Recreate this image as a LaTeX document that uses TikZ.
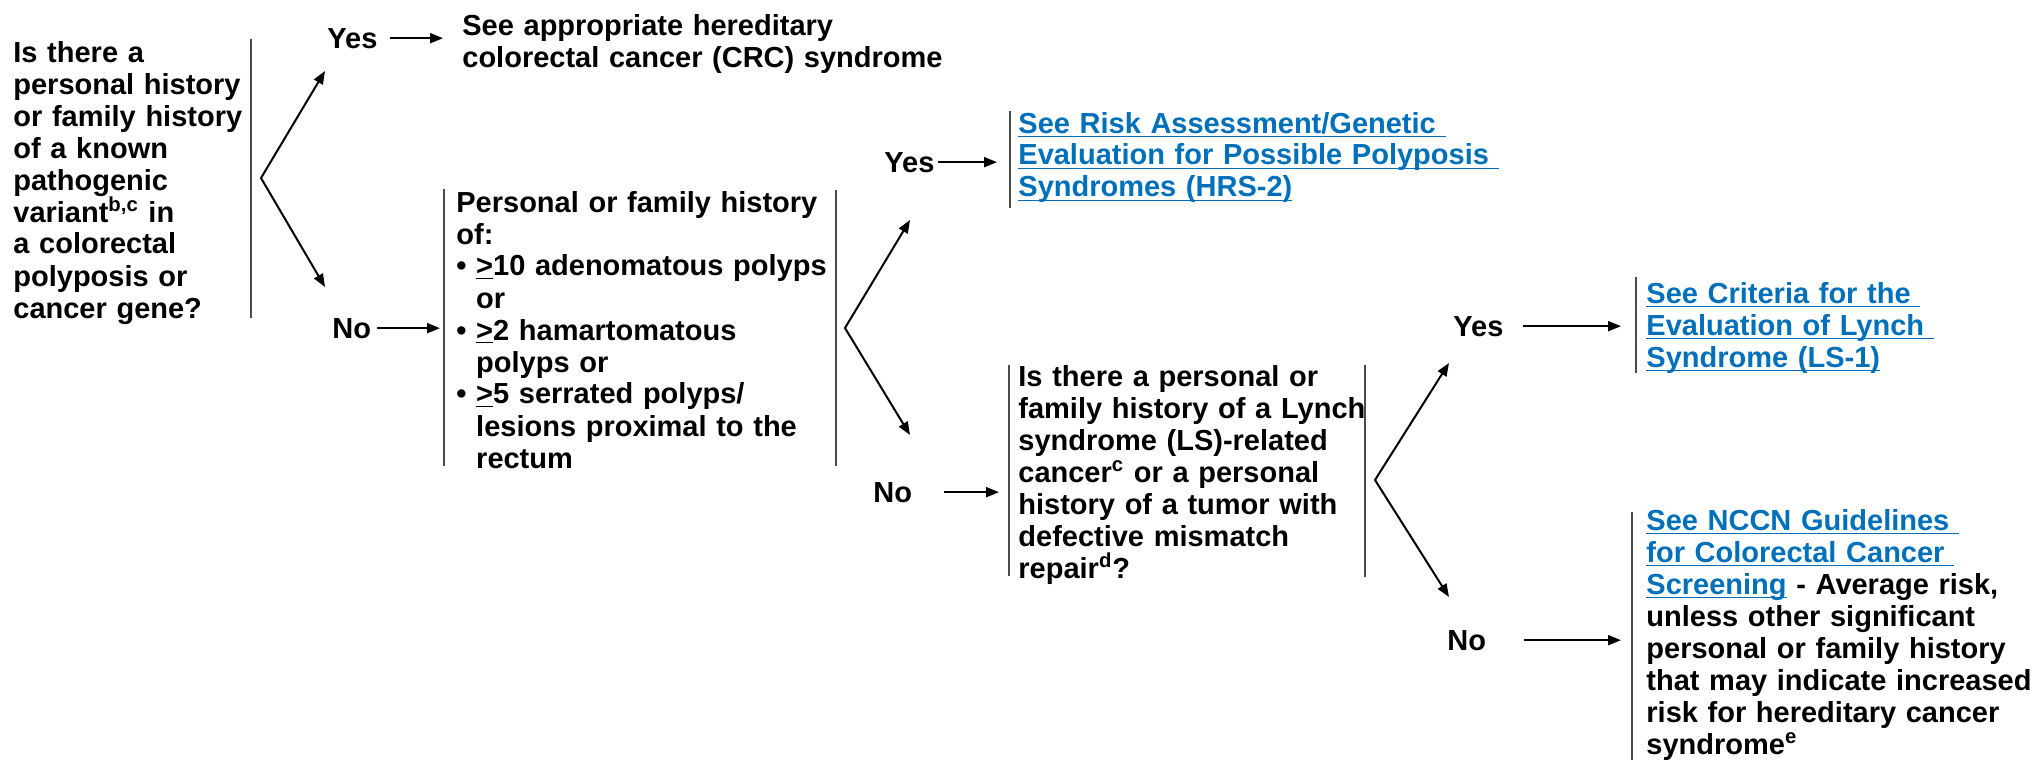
\documentclass[tikz,border=0pt]{standalone}
\usepackage{fontspec}
\setmainfont{Liberation Sans}
\usetikzlibrary{arrows.meta}
\definecolor{linkblue}{RGB}{0,112,186}
\newsavebox{\lnkbox}
\newcommand{\lnk}[1]{\textcolor{linkblue}{\sbox{\lnkbox}{#1}\rlap{\rule[-2.2pt]{\wd\lnkbox}{0.8pt}}\usebox{\lnkbox}}}
\newcommand{\bitem}{\textbullet\ }
\newcommand{\bcont}{\phantom{\textbullet\ }}
\newcommand{\gequ}{\underline{>}}
\tikzset{myarrow/.style={line width=1pt,-{Triangle[length=6.5pt,width=5pt]}}}
\tikzset{myfork/.style={line width=1pt,{Triangle[length=6.5pt,width=5pt]}-{Triangle[length=6.5pt,width=5pt]}}}
\tikzset{mybar/.style={line width=1.2pt,black!70}}
\tikzset{mytext/.style={anchor=base west,inner sep=0pt,align=left,font=\fontsize{14.5}{16}\selectfont\bfseries}}
\tikzset{mylabel/.style={anchor=base west,inner sep=0pt,font=\fontsize{14.5}{16}\selectfont\bfseries}}

\begin{document}
\begin{tikzpicture}[x=0.5pt,y=-0.5pt]
	\useasboundingbox (0,0) rectangle (2042,760);

	% first question
	\node[mytext,text width=125pt] (known) at (13,62) {Is there a\\personal history\\or family history\\of a known\\pathogenic\\variant\textsuperscript{b,c} in\\a colorectal\\polyposis or\\cancer gene?};
	\draw[mybar] (251,39) -- (251,318);

	\node[mytext,text width=250pt] (crc) at (462,35) {See appropriate hereditary\\colorectal cancer (CRC) syndrome};

	% polyp counts
	\node[mytext,text width=190pt] (hist) at (456,212) {Personal or family history\\of:\\\bitem\gequ10 adenomatous polyps\\\bcont or\\\bitem\gequ2 hamartomatous\\\bcont polyps or\\\bitem\gequ5 serrated polyps/\\\bcont lesions proximal to the\\\bcont rectum};
	\draw[mybar] (444,189) -- (444,466);
	\draw[mybar] (836,190) -- (836,466);

	\node[mytext,text width=250pt] (hrs) at (1018,133) {\lnk{See Risk Assessment/Genetic\ }\\\lnk{Evaluation for Possible Polyposis\ }\\\lnk{Syndromes (HRS-2)}};
	\draw[mybar] (1010,111) -- (1010,208);

	% Lynch question
	\node[mytext,text width=180pt] (lynch) at (1018,386) {Is there a personal or\\family history of a Lynch\\syndrome (LS)-related\\cancer\textsuperscript{c} or a personal\\history of a tumor with\\defective mismatch\\repair\textsuperscript{d}?};
	\draw[mybar] (1009,365) -- (1009,576);
	\draw[mybar] (1365,365) -- (1365,577);

	\node[mytext,text width=150pt] (ls1) at (1646,303) {\lnk{See Criteria for the\ }\\\lnk{Evaluation of Lynch\ }\\\lnk{Syndrome (LS-1)}};
	\draw[mybar] (1636,277) -- (1636,373);

	\node[mytext,text width=200pt] (nccn) at (1646,530) {\lnk{See NCCN Guidelines\ }\\\lnk{for Colorectal Cancer\ }\\\lnk{Screening} - Average risk,\\unless other significant\\personal or family history\\that may indicate increased\\risk for hereditary cancer\\syndrome\textsuperscript{e}};
	\draw[mybar] (1632,512) -- (1632,760);

	% yes/no labels
	\node[mylabel] (yesA) at (327,48) {Yes};
	\node[mylabel] (noA) at (332,338) {No};
	\node[mylabel] (yesB) at (884,172) {Yes};
	\node[mylabel] (noB) at (873,502) {No};
	\node[mylabel] (yesC) at (1453,336) {Yes};
	\node[mylabel] (noC) at (1447,650) {No};

	% branches
	\coordinate (fk1) at (261,178);
	\coordinate (fk1y) at (325,71);
	\coordinate (fk1n) at (325,287);
	\draw[myfork] (fk1y) -- (fk1) -- (fk1n);

	\coordinate (fk2) at (845,328);
	\coordinate (fk2y) at (910,220);
	\coordinate (fk2n) at (910,435);
	\draw[myfork] (fk2y) -- (fk2) -- (fk2n);

	\coordinate (fk3) at (1375,480);
	\coordinate (fk3y) at (1449,363);
	\coordinate (fk3n) at (1449,597);
	\draw[myfork] (fk3y) -- (fk3) -- (fk3n);

	% arrows to the next step
	\draw[myarrow,shorten <=6pt,shorten >=9.5pt] (yesA.east) -- (yesA.east -| crc.west);
	\draw[myarrow,shorten <=3pt,shorten >=8pt] (noA.east) -- (noA.east -| hist.west);
	\draw[myarrow,shorten <=1.7pt,shorten >=10.5pt] (yesB.east) -- (yesB.east -| hrs.west);
	\draw[myarrow,shorten <=16pt,shorten >=9.5pt] (noB.east) -- (noB.east -| lynch.west);
	\draw[myarrow,shorten <=9.7pt,shorten >=12.5pt] (yesC.east) -- (yesC.east -| ls1.west);
	\draw[myarrow,shorten <=19pt,shorten >=12.5pt] (noC.east) -- (noC.east -| nccn.west);
\end{tikzpicture}
\end{document}
